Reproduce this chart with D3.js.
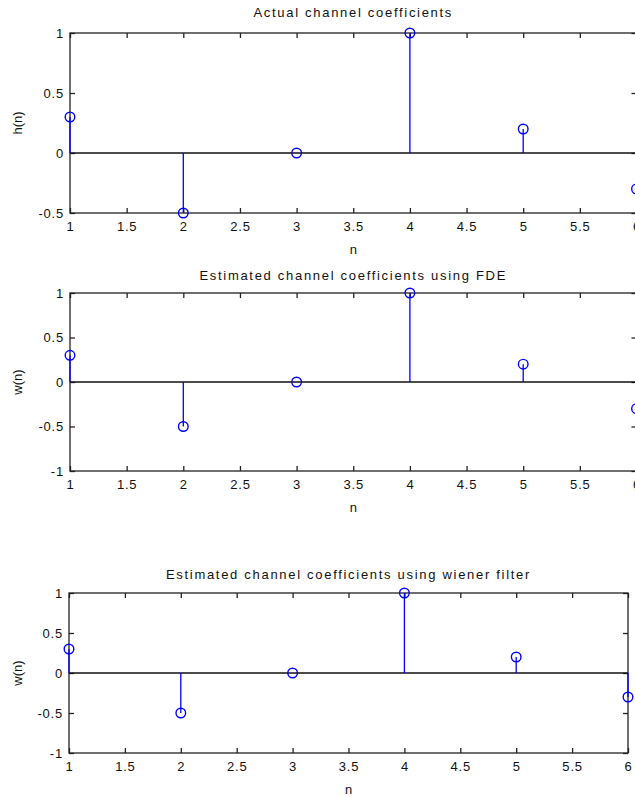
<!DOCTYPE html>
<html>
<head>
<meta charset="utf-8">
<script src="https://cdn.jsdelivr.net/npm/d3@7"></script>
<style>
  body { margin: 0; background: #fff; }
  text { font-family: "Liberation Sans", Arial, sans-serif; fill: #111; }
  .axis path { display: none; }
  .axis line { stroke: #222; stroke-width: 1.3; }
  .axis text { font-size: 13px; letter-spacing: 0.8px; }
</style>
</head>
<body>
<div id="main"></div>
<script>
'use strict';
// - - - - - - - - - -

// data
const n = [1, 2, 3, 4, 5, 6];
const hActual = [0.3, -0.5, 0, 1, 0.2, -0.3];
const wFDE = [0.3, -0.5, 0, 1, 0.2, -0.3];
const wWiener = [0.3, -0.5, 0, 1, 0.2, -0.3];
const xTicks = [1, 1.5, 2, 2.5, 3, 3.5, 4, 4.5, 5, 5.5, 6];
const yTicksTop = [-0.5, 0, 0.5, 1];
const yTicksFull = [-1, -0.5, 0, 0.5, 1];
const titles = [
  'Actual channel coefficients',
  'Estimated channel coefficients using FDE',
  'Estimated channel coefficients using wiener filter'
];
const yLabels = ['h(n)', 'w(n)', 'w(n)'];

// configuration
let canvas = {
  context: '#main',
  width: 635,
  height: 797
};

// subplot boxes (pixel layout)
let panels = [
  { left: 70, right: 636.5, top: 33, bottom: 213, ydomain: [-0.5, 1], yticks: yTicksTop, values: hActual, titleY: 17 },
  { left: 70, right: 636.5, top: 293, bottom: 471, ydomain: [-1, 1], yticks: yTicksFull, values: wFDE, titleY: 280 },
  { left: 69, right: 628, top: 593, bottom: 753, ydomain: [-1, 1], yticks: yTicksFull, values: wWiener, titleY: 579 }
];

let svg;

function setCanvas() {
  svg = d3.select(canvas.context)
    .append('svg')
    .attr('width', canvas.width)
    .attr('height', canvas.height);
}

function drawPanel(p, i) {
  let xScale = d3.scaleLinear().domain([1, 6]).range([p.left, p.right]);
  let yScale = d3.scaleLinear().domain(p.ydomain).range([p.bottom, p.top]);
  let g = svg.append('g');
  let fmt = d => String(d);

  // ticks, pointing inward like matlab
  g.append('g').attr('class', 'axis')
    .attr('transform', 'translate(0,' + p.bottom + ')')
    .call(d3.axisBottom(xScale).tickValues(xTicks).tickFormat(fmt).tickSize(-5).tickPadding(9));
  g.append('g').attr('class', 'axis')
    .attr('transform', 'translate(0,' + p.top + ')')
    .call(d3.axisTop(xScale).tickValues(xTicks).tickFormat('').tickSize(-5));
  g.append('g').attr('class', 'axis')
    .attr('transform', 'translate(' + p.left + ',0)')
    .call(d3.axisLeft(yScale).tickValues(p.yticks).tickFormat(fmt).tickSize(-5).tickPadding(6));
  g.append('g').attr('class', 'axis')
    .attr('transform', 'translate(' + p.right + ',0)')
    .call(d3.axisRight(yScale).tickValues(p.yticks).tickFormat('').tickSize(-5));

  // box
  g.append('rect')
    .attr('x', p.left).attr('y', p.top)
    .attr('width', p.right - p.left).attr('height', p.bottom - p.top)
    .attr('fill', 'none').attr('stroke', '#222').attr('stroke-width', 1.3);

  // baseline
  g.append('line')
    .attr('x1', p.left).attr('x2', p.right)
    .attr('y1', yScale(0)).attr('y2', yScale(0))
    .attr('stroke', '#111').attr('stroke-width', 1.3);

  // stems
  g.selectAll('.stem')
    .data(p.values)
    .enter()
    .append('line')
    .attr('x1', (d, k) => xScale(n[k])).attr('x2', (d, k) => xScale(n[k]))
    .attr('y1', yScale(0)).attr('y2', d => yScale(d))
    .attr('stroke', '#0000ff').attr('stroke-width', 1.3);

  g.selectAll('.marker')
    .data(p.values)
    .enter()
    .append('circle')
    .attr('cx', (d, k) => xScale(n[k]))
    .attr('cy', d => yScale(d))
    .attr('r', 4.8)
    .attr('fill', 'none').attr('stroke', '#0000ff').attr('stroke-width', 1.4);

  // labels
  let cx = (p.left + p.right) / 2;
  g.append('text')
    .attr('x', cx).attr('y', p.titleY)
    .attr('text-anchor', 'middle')
    .style('font-size', '13px').style('letter-spacing', '1.7px')
    .text(titles[i]);
  g.append('text')
    .attr('x', cx).attr('y', p.bottom + 41)
    .attr('text-anchor', 'middle')
    .style('font-size', '13px')
    .text('n');
  g.append('text')
    .attr('transform', 'translate(22,' + ((p.top + p.bottom) / 2) + ') rotate(-90)')
    .attr('text-anchor', 'middle')
    .style('font-size', '13px')
    .text(yLabels[i]);
}

// control
setCanvas();
panels.forEach(drawPanel);

// - - - - - - - - - -
</script>
</body>
</html>
